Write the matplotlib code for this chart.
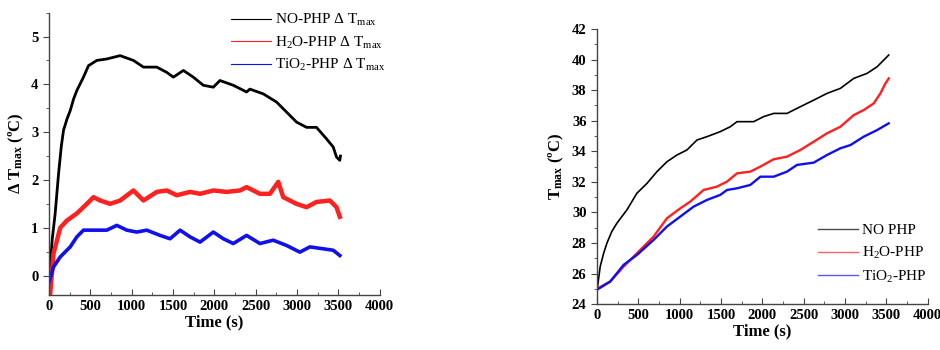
import matplotlib
matplotlib.use("Agg")
import matplotlib.pyplot as plt
from matplotlib.ticker import MultipleLocator

plt.rcParams["font.family"] = ["Liberation Serif", "DejaVu Serif"]
plt.rcParams["mathtext.fontset"] = "custom"
plt.rcParams["mathtext.rm"] = "Liberation Serif"
plt.rcParams["mathtext.it"] = "Liberation Serif:italic"
plt.rcParams["mathtext.bf"] = "Liberation Serif:bold"

# Datos: diferencia de temperatura maxima
t_no_d = [0, 8, 40, 76, 117, 150, 177, 220, 258, 300, 338, 418, 479, 580, 700,
          861, 1022, 1143, 1304, 1425, 1505, 1626, 1746, 1867, 1988, 2068,
          2229, 2390, 2430, 2592, 2752, 2873, 2994, 3115, 3235, 3356, 3437,
          3477, 3517, 3525]
v_no_d = [-0.4, 0.0, 0.75, 1.3, 2.13, 2.7, 3.04, 3.28, 3.45, 3.7, 3.87, 4.15,
          4.39, 4.5, 4.53, 4.6, 4.5, 4.36, 4.36, 4.25, 4.15, 4.29, 4.15, 3.98,
          3.94, 4.08, 3.98, 3.84, 3.9, 3.8, 3.63, 3.42, 3.21, 3.1, 3.1, 2.86,
          2.69, 2.48, 2.41, 2.5]

t_h2o_d = [0, 16, 56, 137, 217, 338, 459, 539, 620, 740, 861, 1022, 1143,
           1304, 1425, 1545, 1706, 1827, 1988, 2149, 2310, 2390, 2551, 2672,
           2773, 2833, 2994, 3115, 3235, 3396, 3477, 3517]
v_h2o_d = [-0.4, -0.38, 0.46, 1.0, 1.15, 1.3, 1.5, 1.64, 1.57, 1.5, 1.57,
           1.78, 1.57, 1.75, 1.78, 1.68, 1.75, 1.71, 1.78, 1.75, 1.78, 1.85,
           1.71, 1.71, 1.96, 1.64, 1.5, 1.43, 1.54, 1.57, 1.43, 1.23]

t_tio2_d = [0, 8, 56, 137, 258, 338, 418, 539, 700, 821, 942, 1062, 1183,
            1344, 1465, 1586, 1706, 1827, 1988, 2109, 2229, 2390, 2551, 2712,
            2873, 3034, 3155, 3316, 3437, 3517]
v_tio2_d = [-0.15, -0.1, 0.18, 0.39, 0.6, 0.81, 0.95, 0.95, 0.95, 1.05, 0.95,
            0.91, 0.95, 0.84, 0.77, 0.95, 0.81, 0.7, 0.91, 0.77, 0.67, 0.84,
            0.67, 0.74, 0.63, 0.49, 0.6, 0.56, 0.53, 0.42]

# Datos: temperatura maxima
t_no = [0, 8, 40, 80, 121, 180, 242, 363, 484, 605, 726, 847, 968, 1089, 1210,
        1331, 1492, 1613, 1694, 1895, 2016, 2137, 2298, 2460, 2621, 2782,
        2944, 3105, 3266, 3387, 3468, 3528]
v_no = [25.0, 25.15, 26.46, 27.3, 27.99, 28.75, 29.3, 30.17, 31.26, 31.9,
        32.67, 33.32, 33.76, 34.09, 34.74, 34.96, 35.29, 35.61, 35.94, 35.94,
        36.27, 36.48, 36.48, 36.92, 37.35, 37.79, 38.12, 38.77, 39.1, 39.53,
        39.97, 40.3]

t_h2o = [0, 161, 323, 484, 685, 847, 1008, 1129, 1290, 1452, 1573, 1694,
         1855, 1976, 2137, 2298, 2460, 2621, 2782, 2944, 3105, 3226, 3347,
         3427, 3488, 3528]
v_h2o = [25.0, 25.48, 26.46, 27.33, 28.42, 29.62, 30.27, 30.71, 31.47, 31.69,
         32.02, 32.56, 32.67, 33.0, 33.48, 33.65, 34.09, 34.63, 35.18, 35.61,
         36.37, 36.7, 37.14, 37.79, 38.44, 38.77]

t_tio2 = [0, 161, 323, 484, 685, 847, 1008, 1169, 1331, 1492, 1573, 1694,
          1855, 1976, 2137, 2298, 2419, 2621, 2782, 2944, 3065, 3226, 3387,
          3528]
v_tio2 = [24.94, 25.48, 26.57, 27.22, 28.2, 29.08, 29.73, 30.38, 30.82,
          31.15, 31.47, 31.58, 31.8, 32.34, 32.34, 32.67, 33.11, 33.26, 33.76,
          34.2, 34.41, 34.96, 35.39, 35.83]


def style_axes(ax):
    """Estilo tipo Origin: solo ejes izquierdo e inferior."""
    ax.spines["top"].set_visible(False)
    ax.spines["right"].set_visible(False)
    for side in ["left", "bottom"]:
        ax.spines[side].set_color("#444444")
        ax.spines[side].set_linewidth(1.0)
    ax.set_xlim(0, 4000)
    ax.xaxis.set_major_locator(MultipleLocator(500))
    ax.xaxis.set_minor_locator(MultipleLocator(250))
    ax.tick_params(axis="x", which="both", direction="in", colors="#444444",
                   labelcolor="black")
    ax.tick_params(axis="y", which="both", direction="out", colors="#444444",
                   labelcolor="black")
    ax.tick_params(which="major", length=4)
    ax.tick_params(which="minor", length=2.5)
    for lab in ax.get_xticklabels() + ax.get_yticklabels():
        lab.set_fontweight("bold")
        lab.set_fontsize(10.5)
    ax.set_xlabel("Time (s)", fontsize=12, fontweight="bold", labelpad=1)


fig = plt.figure(figsize=(9.4, 3.5), dpi=100)

# Grafica izquierda
ax1 = fig.add_axes([0.052, 0.158, 0.352, 0.806])
ax1.plot(t_no_d, v_no_d, color="black", lw=2.0,
         label=r"NO-PHP $\Delta$ T$_{\mathrm{max}}$")
ax1.plot(t_h2o_d, v_h2o_d, color="#ff2020", lw=3.2,
         label=r"H$_2$O-PHP $\Delta$ T$_{\mathrm{max}}$")
ax1.plot(t_tio2_d, v_tio2_d, color="#1010ee", lw=2.6,
         label=r"TiO$_2$-PHP $\Delta$ T$_{\mathrm{max}}$")
ax1.set_ylim(-0.4, 5.5)
ax1.yaxis.set_major_locator(MultipleLocator(1))
ax1.yaxis.set_minor_locator(MultipleLocator(0.5))
style_axes(ax1)
ax1.set_ylabel(r"$\mathbf{\Delta}$ T$_{\mathbf{max}}$ (ºC)", fontsize=12,
               fontweight="bold", labelpad=4)
leg1 = ax1.legend(loc="upper right", bbox_to_anchor=(1.06, 1.05),
                  frameon=False, fontsize=11, handlelength=2.6,
                  handletextpad=0.3, labelspacing=0.42)
for h in leg1.get_lines():
    h.set_linewidth(0.8)

# Grafica derecha
ax2 = fig.add_axes([0.635, 0.131, 0.352, 0.786])
ax2.plot(t_no, v_no, color="black", lw=1.2, label="NO PHP")
ax2.plot(t_h2o, v_h2o, color="#ff2020", lw=1.7, label=r"H$_2$O-PHP")
ax2.plot(t_tio2, v_tio2, color="#1010ee", lw=1.7, label=r"TiO$_2$-PHP")
ax2.set_ylim(24, 42)
ax2.yaxis.set_major_locator(MultipleLocator(2))
ax2.yaxis.set_minor_locator(MultipleLocator(1))
style_axes(ax2)
ax2.set_ylabel(r"T$_{\mathbf{max}}$ (ºC)", fontsize=12, fontweight="bold",
               labelpad=4)
leg2 = ax2.legend(loc="lower right", bbox_to_anchor=(1.04, 0.02),
                  frameon=False, fontsize=11, handlelength=2.6,
                  handletextpad=0.3, labelspacing=0.5)
for h in leg2.get_lines():
    h.set_linewidth(1.0)
    h.set_alpha(0.7)

plt.savefig("out.png", dpi=100)
